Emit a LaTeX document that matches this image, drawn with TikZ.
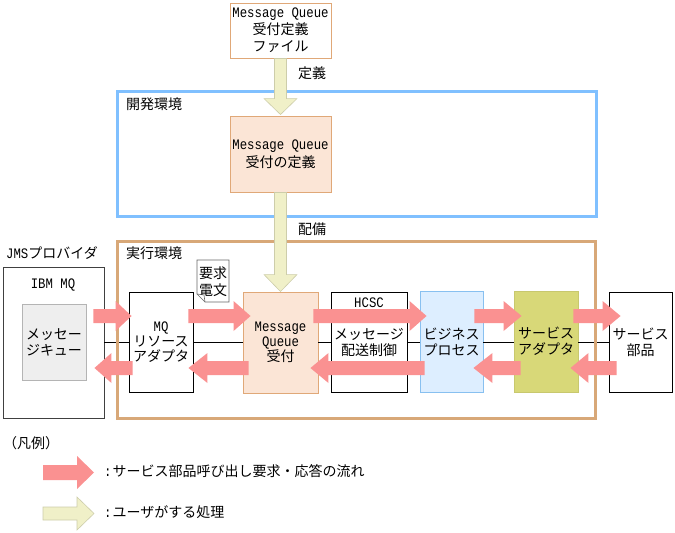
\documentclass[tikz,border=0pt]{standalone}
\usepackage{fontspec}
\setmainfont{Noto Sans CJK JP}
\newfontfamily\latfont[FakeStretch=0.85]{Liberation Mono}
\usetikzlibrary{calc}
\definecolor{redarr}{RGB}{250,145,145}
\definecolor{yelarr}{RGB}{240,240,200}
\definecolor{yelbd}{RGB}{205,205,170}
\definecolor{peach}{RGB}{251,229,214}
\definecolor{peachbd}{RGB}{224,168,120}
\definecolor{devblue}{RGB}{128,192,255}
\definecolor{runbrown}{RGB}{216,168,120}
\definecolor{bizfill}{RGB}{221,238,255}
\definecolor{bizbd}{RGB}{136,192,240}
\definecolor{safill}{RGB}{216,216,120}
\definecolor{sabd}{RGB}{200,200,110}
\definecolor{qfill}{RGB}{238,238,238}
\definecolor{qbd}{RGB}{180,180,180}
\newcommand\lt[1]{{\fontsize{14.5}{16}\latfont #1}}
% horizontal block arrow: style, start, tip, direction(1/-1), shaft half, head half, head length
\newcommand\harrow[7]{\path[#1] let \p1=#2, \p2=#3 in
  (\x1,\y1+#5pt) -- ({\x2-(#4)*#7pt},\y1+#5pt) -- ({\x2-(#4)*#7pt},\y1+#6pt) --
  (\x2,\y1) -- ({\x2-(#4)*#7pt},\y1-#6pt) -- ({\x2-(#4)*#7pt},\y1-#5pt) -- (\x1,\y1-#5pt) -- cycle;}
% downward block arrow: style, start, tip, shaft half, head half, head length
\newcommand\varrow[6]{\path[#1] let \p1=#2, \p2=#3 in
  (\x1-#4pt,\y1) -- (\x1-#4pt,\y2+#6pt) -- (\x1-#5pt,\y2+#6pt) -- (\x1,\y2) --
  (\x1+#5pt,\y2+#6pt) -- (\x1+#4pt,\y2+#6pt) -- (\x1+#4pt,\y1) -- cycle;}
\begin{document}
\begin{tikzpicture}[x=1pt,y=-1pt,
  every node/.style={inner sep=0pt, font=\fontsize{14}{16}\selectfont},
  box/.style={draw, line width=0.9pt, align=center},
  envbox/.style={line width=3pt, minimum width=#1},
  redarrow/.style={fill=redarr},
  yelarrow/.style={fill=yelarr, draw=yelbd, line width=0.6pt},
  conn/.style={line width=0.9pt}]
\useasboundingbox (0,0) rectangle (675,533);
% rows
\coordinate (rowU) at (0,316);
\coordinate (rowM) at (0,342);
\coordinate (rowL) at (0,368);
% top definition nodes
\node[box, draw=peachbd, fill=white, minimum width=101, minimum height=55,
  font=\fontsize{14}{17}\selectfont] (deffile) at (280.5,30.5)
  {\lt{Message Queue}\\受付定義\\ファイル};
\node[box, draw=peachbd, fill=peach, minimum width=101, minimum height=76,
  font=\fontsize{14}{18}\selectfont] (defn) at (280.5,154)
  {\lt{Message Queue}\\受付の定義};
% JMS provider
\node[draw=black!75, line width=0.9pt, minimum width=101, minimum height=151] (jms) at (53.5,342.5) {};
\node (ibm) at (53,285) {\lt{IBM MQ}};
\node[box, draw=qbd, fill=qfill, minimum width=64, minimum height=76] (queue) at (54,342) {メッセー\\ジキュー};
% runtime components
\node[box, fill=white, minimum width=64, minimum height=100, font=\fontsize{14}{15}\selectfont] (mq) at (161,342)
  {\lt{MQ}\\リソース\\アダプタ};
\node[box, draw=peachbd, fill=peach, minimum width=75, minimum height=101, font=\fontsize{14}{15}\selectfont] (mqr) at (280.5,342.5)
  {\lt{Message}\\\lt{Queue}\\受付};
\node[box, fill=white, minimum width=76, minimum height=100] (hcsc) at (369,342)
  {メッセージ\\配送制御};
\node (hcsclbl) at (369,303) {\lt{HCSC}};
\node[box, draw=bizbd, fill=bizfill, minimum width=63, minimum height=101] (biz) at (451.5,341.5)
  {ビジネス\\プロセス};
\node[box, draw=sabd, fill=safill, minimum width=64, minimum height=101] (sa) at (546,341.5)
  {サービス\\アダプタ};
\node[box, fill=white, minimum width=63, minimum height=100] (sp) at (640.5,342)
  {サービス\\部品};
% connecting line
\draw[conn] (jms.east |- rowM) -- (mq.west |- rowM);
\draw[conn] (mq.east |- rowM) -- (mqr.west |- rowM);
\draw[conn] (mqr.east |- rowM) -- (hcsc.west |- rowM);
\draw[conn] (hcsc.east |- rowM) -- (biz.west |- rowM);
\draw[conn] (biz.east |- rowM) -- (sa.west |- rowM);
\draw[conn] (sa.east |- rowM) -- (sp.west |- rowM);
% environments
\node[envbox=478.5, draw=devblue, minimum height=125] (dev) at (356.75,154) {};
\node[envbox=478, draw=runbrown, minimum height=177] (run) at (356,330) {};
\node[anchor=west] (devlbl) at (126,104) {開発環境};
\node[anchor=west] (runlbl) at (126,253) {実行環境};
\node[anchor=west] (jmslbl) at (6,253) {\lt{JMS}プロバイダ};
% request document
\draw[fill=white, draw=black!60, line width=0.6pt] (197,260) -- (229,260) -- (229,302) -- (205,302) -- (197,294) -- cycle;
\draw[draw=black!60, line width=0.6pt] (197,294) -- (204,295) -- (205,302);
\node[align=center, font=\fontsize{14}{17}\selectfont] (doc) at (213,281.5) {要求\\電文};
% user processing arrows
\varrow{yelarrow}{(deffile.south)}{($(defn.north)+(0,-1)$)}{6}{16.5}{16}
\varrow{yelarrow}{(defn.south)}{(mq.north -| defn)}{6}{16.5}{17}
\node (lbldef) at (312,73) {定義};
\node (lbldep) at (312,229) {配備};
% request flow (upper)
\harrow{redarrow}{($(jms.east |- rowU)+(-11,0)$)}{($(mq.west |- rowU)+(3,0)$)}{1}{7}{15}{16}
\harrow{redarrow}{($(mq.east |- rowU)+(-5,0)$)}{($(mqr.west |- rowU)+(8,0)$)}{1}{7}{15}{17}
\harrow{redarrow}{($(mqr.east |- rowU)+(-5,0)$)}{($(biz.west |- rowU)+(7,0)$)}{1}{7}{15}{17}
\harrow{redarrow}{($(biz.east |- rowU)+(-9,0)$)}{($(sa.west |- rowU)+(8,0)$)}{1}{7}{15}{18}
\harrow{redarrow}{($(sa.east |- rowU)+(-5,0)$)}{($(sp.west |- rowU)+(12,0)$)}{1}{7}{15}{18}
% response flow (lower)
\harrow{redarrow}{($(mq.west |- rowL)+(4,0)$)}{($(jms.east |- rowL)+(-10,0)$)}{-1}{7}{15}{17}
\harrow{redarrow}{($(mqr.west |- rowL)+(6,0)$)}{($(mq.east |- rowL)+(-5,0)$)}{-1}{7}{15}{19}
\harrow{redarrow}{($(biz.west |- rowL)+(5,0)$)}{($(mqr.east |- rowL)+(-8,0)$)}{-1}{7}{15}{18}
\harrow{redarrow}{($(sa.west |- rowL)+(7,0)$)}{($(biz.east |- rowL)+(-10,0)$)}{-1}{7}{15}{19}
\harrow{redarrow}{($(sp.west |- rowL)+(8,0)$)}{($(sa.east |- rowL)+(-8,0)$)}{-1}{7}{15}{18}
% legend
\node[anchor=west] (legend) at (3,443) {（凡例）};
\coordinate (lg1s) at (43,472.5);
\coordinate (lg1t) at (94,472.5);
\coordinate (lg2s) at (43,513.5);
\coordinate (lg2t) at (94,513.5);
\harrow{redarrow}{(lg1s)}{(lg1t)}{1}{7.5}{16.5}{17}
\harrow{yelarrow}{(lg2s)}{(lg2t)}{1}{6.5}{16.5}{17}
\node[anchor=west] (lgt1) at (104,471) {\lt{:}\hspace{1pt}サービス部品呼び出し要求・応答の流れ};
\node[anchor=west] (lgt2) at (104,512) {\lt{:}\hspace{1pt}ユーザがする処理};
\end{tikzpicture}
\end{document}
